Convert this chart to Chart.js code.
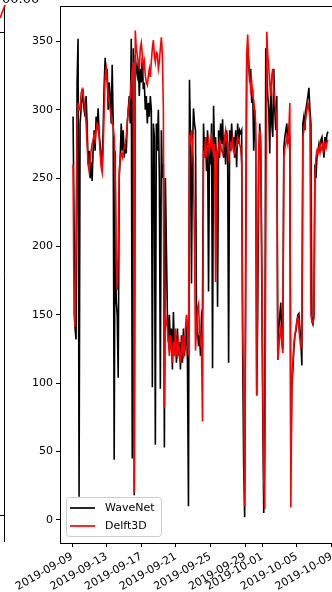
<!DOCTYPE html>
<html><head><meta charset="utf-8">
<script src="https://cdn.jsdelivr.net/npm/chart.js@4.4.0/dist/chart.umd.min.js"></script>
<style>
html,body{margin:0;padding:0;overflow:hidden;background:#fff;width:332px;height:592px}
#wrap{position:absolute;left:0;top:0;width:360px;height:592px}
</style></head><body>
<div id="wrap"><canvas id="c" width="360" height="592" style="width:360px;height:592px"></canvas></div>
<script>
// tick labels and positions (days after 2019-09-09 00:00)
const tickDates = ['2019-09-09','2019-09-13','2019-09-17','2019-09-21','2019-09-25','2019-09-29','2019-10-01','2019-10-05','2019-10-09'];
const tickDays = [0,4,8,12,16,20,22,26,30];
const yTicks = [0,50,100,150,200,250,300,350];
const seriesNames = ['WaveNet','Delft3D'];
// sampling of the series (days)
const firstDay = 0.116;
const dayStep = 0.116;

const waveNet = [
295,220,140,132,319,352,17,290,300,308,
312,300,295,310,290,260,270,250,262,248,
270,285,270,295,285,301,282,275,265,260,
285,318,338,322,330,300,320,310,290,333,
290,44,270,160,150,104,250,265,290,270,
285,265,275,268,290,300,310,290,352,45,
345,18,340,330,325,335,310,330,320,338,
315,320,300,310,290,305,295,310,300,97,
290,280,55,290,270,300,250,96,285,250,
260,53,250,200,150,130,150,125,140,110,
152,125,135,115,140,120,130,110,135,115,
140,120,130,145,115,10,322,280,173,270,
301,290,285,150,140,127,135,120,150,155,
290,265,280,255,285,167,275,260,290,111,
303,270,280,260,156,285,265,290,275,293,
265,280,260,285,275,115,285,270,290,275,
280,265,285,258,290,275,285,283,285,122,
40,2,200,330,345,335,320,330,305,315,
270,300,275,91,150,260,290,270,180,80,
5,60,345,330,310,300,268,320,290,280,
330,300,285,310,117,140,150,159,130,125,
272,280,285,290,275,285,280,42,97,110,
125,135,138,145,150,151,140,130,113,290,
295,285,300,305,310,316,300,290,145,143,
150,260,250,265,270,275,270,278,280,272,
265,280,275,282,284
];
const delft3D = [
260,150,141,200,290,305,300,300,312,315,
313,305,300,290,275,260,255,262,270,275,
278,282,278,285,290,288,280,268,258,254,
270,300,325,330,320,310,305,300,295,290,
288,280,250,190,168,200,255,265,268,265,
270,272,275,280,290,300,305,310,320,330,
335,20,358,345,340,335,330,345,349,340,
330,335,325,320,318,325,330,324,335,345,
351,340,335,342,341,330,335,345,353,340,
300,82,150,145,140,130,120,135,125,115,
130,120,140,125,118,130,125,115,122,135,
118,125,140,150,140,120,280,277,285,275,
260,200,124,140,155,158,140,130,125,72,
270,265,280,268,272,278,270,275,280,272,
268,275,174,270,265,272,278,275,270,268,
272,280,285,278,272,265,270,275,272,278,
270,268,272,275,280,278,275,272,260,141,
92,10,150,340,355,335,325,315,320,310,
307,300,290,91,200,270,285,280,200,100,
30,8,200,357,340,330,320,310,325,330,
315,305,300,290,117,125,135,140,130,122,
265,272,275,280,275,285,305,9,100,115,
128,135,140,145,148,140,132,125,135,280,
285,290,295,300,305,300,295,150,145,144,
148,250,265,270,268,272,275,270,272,275,
270,275,272,276,278
];

const toPts = arr => arr.map((v,i)=>({x: firstDay + i*dayStep, y: v}));
const FONT = 'DejaVu Sans';

const extras = {
  id:'extras',
  afterDraw(chart){
    const ctx = chart.ctx, a = chart.chartArea;
    ctx.save();
    // top and right spines
    ctx.strokeStyle = '#000'; ctx.lineWidth = 1;
    ctx.beginPath(); ctx.moveTo(a.left, a.top+0.5); ctx.lineTo(a.right, a.top+0.5); ctx.lineTo(a.right, a.bottom); ctx.stroke();
    // fragment of neighbouring panel at the far left
    ctx.beginPath(); ctx.moveTo(4.5, 5); ctx.lineTo(4.5, 542); ctx.stroke();
    ctx.beginPath(); ctx.moveTo(0, 32.5); ctx.lineTo(4, 32.5); ctx.moveTo(0, 515.5); ctx.lineTo(4, 515.5); ctx.stroke();
    ctx.strokeStyle = '#ff0000'; ctx.lineWidth = 1.6;
    ctx.beginPath(); ctx.moveTo(0, 18); ctx.lineTo(5, 5); ctx.stroke();
    ctx.fillStyle = '#000';
    ctx.font = '13px "' + FONT + '"';
    ctx.textBaseline = 'alphabetic'; ctx.textAlign = 'left';
    ctx.fillText('00.00', 2, 3);
    // legend
    const lx = 66.5, ly = 497.5, lw = 95, lh = 39, r = 3;
    ctx.beginPath();
    ctx.moveTo(lx+r, ly); ctx.lineTo(lx+lw-r, ly); ctx.arcTo(lx+lw, ly, lx+lw, ly+r, r);
    ctx.lineTo(lx+lw, ly+lh-r); ctx.arcTo(lx+lw, ly+lh, lx+lw-r, ly+lh, r);
    ctx.lineTo(lx+r, ly+lh); ctx.arcTo(lx, ly+lh, lx, ly+lh-r, r);
    ctx.lineTo(lx, ly+r); ctx.arcTo(lx, ly, lx+r, ly, r); ctx.closePath();
    ctx.fillStyle = 'rgba(255,255,255,0.8)'; ctx.fill();
    ctx.strokeStyle = '#cccccc'; ctx.lineWidth = 1; ctx.stroke();
    const cols = ['#000000','#ff0000'];
    ctx.font = '11px "' + FONT + '"';
    ctx.textBaseline = 'middle';
    seriesNames.forEach((n,k)=>{
      const yy = 508 + k*18;
      ctx.strokeStyle = cols[k]; ctx.lineWidth = 1.7;
      ctx.beginPath(); ctx.moveTo(70, yy); ctx.lineTo(95, yy); ctx.stroke();
      ctx.fillStyle = '#000'; ctx.fillText(n, 105, yy);
    });
    ctx.restore();
  }
};

new Chart(document.getElementById('c'), {
  type:'line',
  data:{datasets:[
    {label:seriesNames[0], data:toPts(waveNet), borderColor:'#000000', borderWidth:1.6, pointRadius:0, tension:0, order:2, fill:false},
    {label:seriesNames[1], data:toPts(delft3D), borderColor:'#ff0000', borderWidth:1.6, pointRadius:0, tension:0, order:1, fill:false}
  ]},
  options:{
    responsive:false, animation:false, devicePixelRatio:1,
    layout:{padding:{top:6, right:20, left:0, bottom:0}},
    plugins:{legend:{display:false}, tooltip:{enabled:false}},
    scales:{
      x:{
        type:'linear', min:-1.392, max:30.97,
        afterBuildTicks:s=>{ s.ticks = tickDays.map(v=>({value:v})); },
        afterFit:s=>{ s.height = 49; s.paddingLeft = 0; s.paddingRight = 0; },
        ticks:{ autoSkip:false, maxRotation:30, minRotation:30, padding:3, color:'#000',
                font:{family:FONT, size:11}, callback:(v,i)=>tickDates[i] },
        grid:{drawOnChartArea:false, drawTicks:true, tickLength:4, color:'#000', tickWidth:1},
        border:{display:true, color:'#000', width:1}
      },
      y:{
        type:'linear', min:-16.9, max:375.9,
        afterBuildTicks:s=>{ s.ticks = yTicks.map(v=>({value:v})); },
        afterFit:s=>{ s.width = 60; s.paddingTop = 0; s.paddingBottom = 0; },
        ticks:{ padding:3, color:'#000', font:{family:FONT, size:11}, callback:(v)=>String(v) },
        grid:{drawOnChartArea:false, drawTicks:true, tickLength:4, color:'#000', tickWidth:1},
        border:{display:true, color:'#000', width:1}
      }
    }
  },
  plugins:[extras]
});
</script>
</body></html>
